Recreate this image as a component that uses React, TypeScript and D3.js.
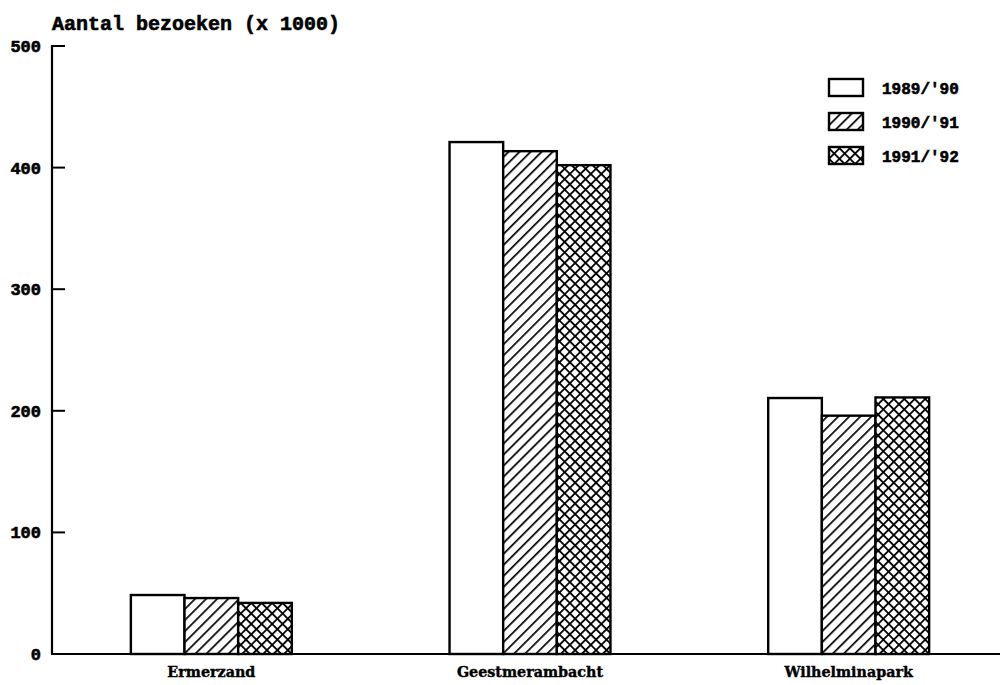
import React from "react";
import * as d3 from "d3";

const categories = ["Ermerzand", "Geestmerambacht", "Wilhelminapark"];
const seriesNames = ["1989/'90", "1990/'91", "1991/'92"];
const values1989 = [48.5, 421, 210.5];
const values1990 = [46, 413.5, 196];
const values1991 = [42, 402, 211];
const seriesValues = [values1989, values1990, values1991];
const yTicks = [0, 100, 200, 300, 400, 500];
const title = "Aantal bezoeken (x 1000)";

const W = 1002;
const H = 685;
const axisX = 52;
const baseY = 654;
const topY = 46;

export default function App() {
  const y = d3.scaleLinear().domain([0, 500]).range([baseY, topY]);
  const x0 = d3
    .scaleBand<string>()
    .domain(categories)
    .range([52, 1008])
    .paddingInner(0.495)
    .paddingOuter(0.2475);
  const x1 = d3
    .scaleBand<number>()
    .domain([0, 1, 2])
    .range([0, x0.bandwidth()]);
  const fills = ["#fff", "url(#hatch)", "url(#cross)"];
  const mono = "'Liberation Mono', 'DejaVu Sans Mono', monospace";
  const serif = "'DejaVu Serif', 'Liberation Serif', serif";

  return (
    <svg
      width={W}
      height={H}
      viewBox={`0 0 ${W} ${H}`}
      style={{ position: "absolute", left: 0, top: 0, background: "#fff" }}
    >
      <defs>
        <pattern
          id="hatch"
          patternUnits="userSpaceOnUse"
          width={7.8}
          height={7.8}
          patternTransform="rotate(45)"
        >
          <rect width={7.8} height={7.8} fill="#fff" />
          <line x1={0} y1={0} x2={0} y2={7.8} stroke="#000" strokeWidth={3.4} />
        </pattern>
        <pattern
          id="cross"
          patternUnits="userSpaceOnUse"
          width={7.4}
          height={7.4}
          patternTransform="rotate(45)"
        >
          <rect width={7.4} height={7.4} fill="#fff" />
          <line x1={0} y1={0} x2={0} y2={7.4} stroke="#000" strokeWidth={3.6} />
          <line x1={0} y1={0} x2={7.4} y2={0} stroke="#000" strokeWidth={3.6} />
        </pattern>
      </defs>

      <text
        x={52}
        y={30}
        fontFamily={mono}
        fontWeight="bold"
        fontSize={20}
        fill="#000"
        stroke="#000"
        strokeWidth={0.6}
      >
        {title}
      </text>

      {categories.map((c, ci) => (
        <g key={c} transform={`translate(${x0(c)},0)`}>
          {seriesValues.map((vals, si) => (
            <rect
              key={si}
              x={x1(si)}
              y={y(vals[ci])}
              width={x1.bandwidth()}
              height={baseY - y(vals[ci])}
              fill={fills[si]}
              stroke="#000"
              strokeWidth={2.4}
            />
          ))}
          <text
            x={x0.bandwidth() / 2}
            y={677}
            textAnchor="middle"
            fontFamily={serif}
            fontWeight="bold"
            fontSize={14.3}
            fill="#000"
            stroke="#000"
            strokeWidth={0.4}
          >
            {c}
          </text>
        </g>
      ))}

      {/* axes */}
      <line x1={axisX} y1={topY - 1} x2={axisX} y2={baseY} stroke="#000" strokeWidth={2.2} />
      <line x1={axisX - 1} y1={baseY} x2={1000} y2={baseY} stroke="#000" strokeWidth={2.2} />
      {yTicks.map((t) => (
        <g key={t}>
          <line
            x1={axisX}
            x2={axisX + 13}
            y1={y(t)}
            y2={y(t)}
            stroke="#000"
            strokeWidth={2}
          />
          <text
            x={41}
            y={y(t) + 6}
            textAnchor="end"
            fontFamily={mono}
            fontWeight="bold"
            fontSize={17}
            fill="#000"
            stroke="#000"
            strokeWidth={0.6}
          >
            {t}
          </text>
        </g>
      ))}

      {/* legend */}
      {seriesNames.map((s, i) => (
        <g key={s} transform={`translate(829,${79 + i * 34})`}>
          <rect width={34} height={17} fill={fills[i]} stroke="#000" strokeWidth={2.4} />
          <text
            x={53}
            y={15}
            fontFamily={mono}
            fontWeight="bold"
            fontSize={16}
            fill="#000"
            stroke="#000"
            strokeWidth={0.6}
          >
            {s}
          </text>
        </g>
      ))}
    </svg>
  );
}
